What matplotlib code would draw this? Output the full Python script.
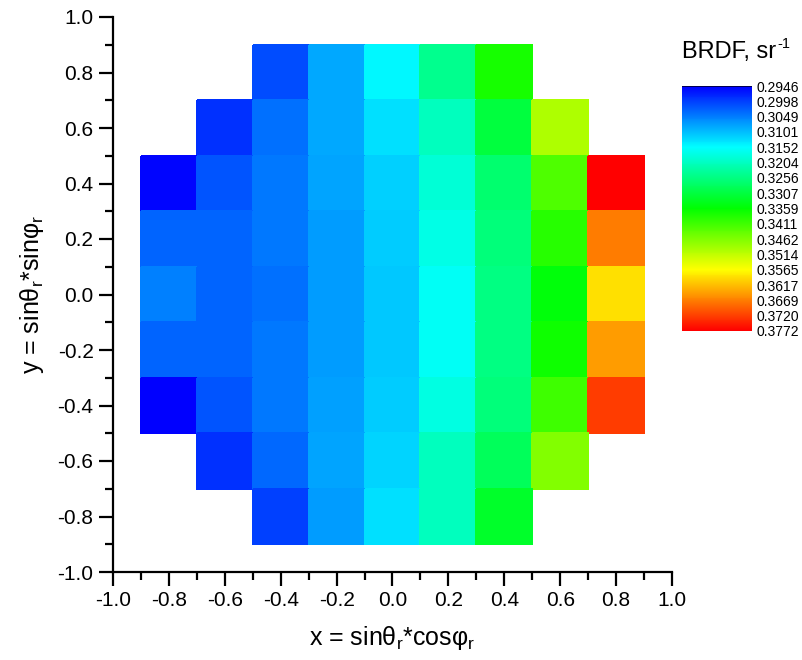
import numpy as np
import matplotlib
matplotlib.use("Agg")
import matplotlib.pyplot as plt
from matplotlib.colors import LinearSegmentedColormap, Normalize

plt.rcParams['font.family'] = ['Liberation Sans', 'DejaVu Sans']
plt.rcParams['mathtext.fontset'] = 'custom'
plt.rcParams['mathtext.rm'] = 'Liberation Sans'
plt.rcParams['mathtext.it'] = 'Liberation Sans'
plt.rcParams['mathtext.default'] = 'regular'

# cell centres
x_centers = [-0.8, -0.6, -0.4, -0.2, 0.0, 0.2, 0.4, 0.6, 0.8]
y_centers = [0.8, 0.6, 0.4, 0.2, 0.0, -0.2, -0.4, -0.6, -0.8]

# BRDF values per row (top to bottom), None = no data
row_y08 = [None, None, 0.3010, 0.3084, 0.3148, 0.3246, 0.3376, None, None]
row_y06 = [None, 0.2986, 0.3039, 0.3084, 0.3128, 0.3205, 0.3309, 0.3499, None]
row_y04 = [0.2950, 0.3015, 0.3043, 0.3080, 0.3116, 0.3185, 0.3270, 0.3423, 0.3772]
row_y02 = [0.3027, 0.3027, 0.3043, 0.3072, 0.3111, 0.3173, 0.3262, 0.3391, 0.3670]
row_y00 = [0.3051, 0.3027, 0.3039, 0.3072, 0.3108, 0.3161, 0.3254, 0.3351, 0.3589]
row_ym02 = [0.3027, 0.3027, 0.3043, 0.3072, 0.3108, 0.3161, 0.3254, 0.3371, 0.3646]
row_ym04 = [0.2946, 0.3015, 0.3043, 0.3076, 0.3111, 0.3176, 0.3262, 0.3408, 0.3723]
row_ym06 = [None, 0.2986, 0.3031, 0.3080, 0.3120, 0.3205, 0.3286, 0.3464, None]
row_ym08 = [None, None, 0.2999, 0.3072, 0.3128, 0.3205, 0.3326, None, None]

cbar_labels = ['0.2946', '0.2998', '0.3049', '0.3101', '0.3152', '0.3204',
               '0.3256', '0.3307', '0.3359', '0.3411', '0.3462', '0.3514',
               '0.3565', '0.3617', '0.3669', '0.3720', '0.3772']

axis_tick_labels = ['-1.0', '-0.8', '-0.6', '-0.4', '-0.2', '0.0',
                    '0.2', '0.4', '0.6', '0.8', '1.0']

rows = [row_y08, row_y06, row_y04, row_y02, row_y00,
        row_ym02, row_ym04, row_ym06, row_ym08]
Z = np.array([[np.nan if v is None else v for v in r] for r in rows], dtype=float)
Zm = np.ma.masked_invalid(Z)

xc = np.array(x_centers)
yc = np.array(y_centers)
dx = 0.2
x_edges = np.concatenate([xc - dx / 2, [xc[-1] + dx / 2]])
y_edges = np.concatenate([yc + dx / 2, [yc[-1] - dx / 2]])

vmin = float(cbar_labels[0])
vmax = float(cbar_labels[-1])
cmap = LinearSegmentedColormap.from_list(
    'brdf', ['#0000ff', '#00ffff', '#00ff00', '#ffff00', '#ff0000'])
norm = Normalize(vmin=vmin, vmax=vmax)

fig = plt.figure(figsize=(8.03, 6.60), dpi=100)
W, H = 803, 660
ax = fig.add_axes([113 / W, 1 - 572 / H, (672 - 113) / W, (572 - 17) / H])
mesh = ax.pcolormesh(x_edges, y_edges, Zm, cmap=cmap, norm=norm,
                     edgecolors='face', linewidth=0.3)

ax.set_xlim(-1.0, 1.0)
ax.set_ylim(-1.0, 1.0)
ax.spines['top'].set_visible(False)
ax.spines['right'].set_visible(False)
for s in ('left', 'bottom'):
    ax.spines[s].set_linewidth(1.6)
ticks = [float(t) for t in axis_tick_labels]
ax.set_xticks(ticks)
ax.set_yticks(ticks)
ax.set_xticklabels(axis_tick_labels)
ax.set_yticklabels(axis_tick_labels)
minor = [(ticks[i] + ticks[i + 1]) / 2 for i in range(len(ticks) - 1)]
ax.set_xticks(minor, minor=True)
ax.set_yticks(minor, minor=True)
ax.tick_params(which='major', direction='out', length=10, width=1.6,
               labelsize=15, pad=4)
ax.tick_params(which='minor', direction='out', length=6, width=1.6)

ax.set_xlabel('x = sinθ$_r$*cosφ$_r$', fontsize=18, labelpad=10)
ax.set_ylabel('y = sinθ$_r$*sinφ$_r$', fontsize=18, labelpad=8)

cax = fig.add_axes([682 / W, 1 - 331 / H, 70 / W, (331 - 86) / H])
cb = fig.colorbar(mesh, cax=cax, orientation='vertical')
cb.outline.set_visible(False)
cax.invert_yaxis()
cb.set_ticks([float(t) for t in cbar_labels])
cb.set_ticklabels(cbar_labels)
cax.tick_params(length=0, labelsize=10, pad=3)
cax.axhline(vmin, color='#000033', linewidth=1.2)

t1 = fig.text(682 / W, 1 - 58 / H, 'BRDF, sr', fontsize=17,
              ha='left', va='baseline')
fig.canvas.draw()
bb = t1.get_window_extent()
fig.text((bb.x1 + 1) / W, (bb.y0 + 15) / H, '-1', fontsize=10.5,
         ha='left', va='baseline')

fig.savefig('out.png', dpi=100)
